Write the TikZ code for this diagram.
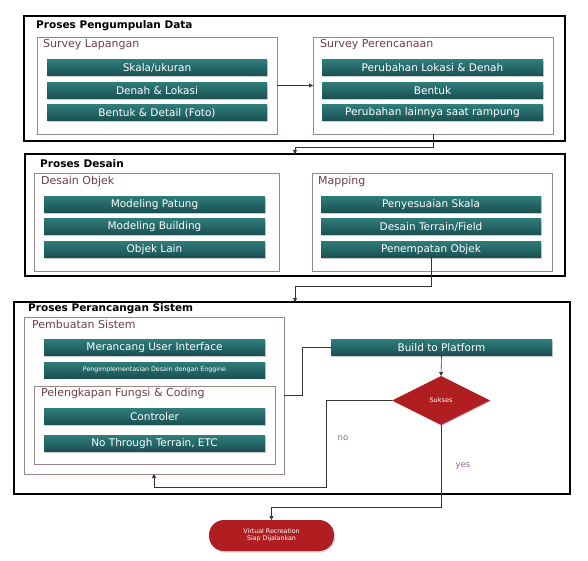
\documentclass[tikz,border=0pt]{standalone}
\usepackage{fontspec}
\setmainfont{DejaVu Sans}
\usetikzlibrary{shapes.geometric,shadows,arrows.meta}
\definecolor{tealtop}{HTML}{2E7C7A}
\definecolor{tealbot}{HTML}{1A5052}
\definecolor{subline}{HTML}{9A8585}
\definecolor{sublab}{HTML}{6E3F4A}
\definecolor{redfill}{HTML}{B01E22}
\definecolor{yncol}{HTML}{8A6A8E}
\begin{document}
\begin{tikzpicture}[x=1pt,y=-1pt,
  outerbox/.style={draw=black, line width=1.6pt, inner sep=0pt, outer sep=0pt},
  subbox/.style={draw=subline, line width=0.6pt, fill=white, inner sep=0pt, outer sep=0pt,
    drop shadow={shadow xshift=1.2pt,shadow yshift=-1.2pt,opacity=0.35}},
  bar/.style={top color=tealtop, bottom color=tealbot, text=white,
    font=\fontsize{10.5}{12}\selectfont, minimum height=16pt, inner sep=0pt, outer sep=0pt,
    drop shadow={shadow xshift=1pt,shadow yshift=-1.2pt,opacity=0.4}},
  titlelab/.style={anchor=west, font=\bfseries\fontsize{10.5}{12}\selectfont, inner sep=0pt},
  sublabel/.style={anchor=west, text=sublab, font=\fontsize{11}{13}\selectfont, inner sep=0pt},
  conn/.style={draw=black!80, line width=0.6pt},
  arr/.style={conn, -{Triangle[length=4pt,width=4pt]}},
  yn/.style={text=yncol, font=\fontsize{8.5}{10}\selectfont, inner sep=0pt},
]
\useasboundingbox[fill=white] (0,0) rectangle (588,561);

% ---------- Box 1 ----------
\node[outerbox, minimum width=541pt, minimum height=125pt] (p1) at (294.5,78.5) {};
\node[titlelab] (t1) at (36,26) {Proses Pengumpulan Data};
\node[subbox, minimum width=240pt, minimum height=97pt] (sl) at (157,85.5) {};
\node[sublabel] (sll) at (43,45) {Survey Lapangan};
\node[bar, minimum width=220pt] (a1) at (157,68) {Skala/ukuran};
\node[bar, minimum width=220pt] (a2) at (157,90.5) {Denah \& Lokasi};
\node[bar, minimum width=220pt] (a3) at (157,113) {Bentuk \& Detail (Foto)};
\node[subbox, minimum width=240pt, minimum height=97pt] (sp) at (433,85.5) {};
\node[sublabel] (spl) at (320,45) {Survey Perencanaan};
\node[bar, minimum width=221pt] (b1) at (432.5,68) {Perubahan Lokasi \& Denah};
\node[bar, minimum width=221pt] (b2) at (432.5,90.5) {Bentuk};
\node[bar, minimum width=221pt] (b3) at (432.5,113) {Perubahan lainnya saat rampung};

% ---------- Box 2 ----------
\node[outerbox, minimum width=540pt, minimum height=122pt] (p2) at (295,215) {};
\node[titlelab] (t2) at (40,164) {Proses Desain};
\node[subbox, minimum width=245pt, minimum height=98pt] (do) at (156.5,222) {};
\node[sublabel] (dol) at (41,181) {Desain Objek};
\node[bar, minimum width=221pt] (d1) at (154.5,204.5) {Modeling Patung};
\node[bar, minimum width=221pt] (d2) at (154.5,226.5) {Modeling Building};
\node[bar, minimum width=221pt] (d3) at (154.5,249.5) {Objek Lain};
\node[subbox, minimum width=240pt, minimum height=98pt] (mp) at (432,222) {};
\node[sublabel] (mpl) at (318,181) {Mapping};
\node[bar, minimum width=220pt] (m1) at (431,204.5) {Penyesuaian Skala};
\node[bar, minimum width=220pt] (m2) at (431,226.5) {Desain Terrain/Field};
\node[bar, minimum width=220pt] (m3) at (431,249.5) {Penempatan Objek};

% ---------- Box 3 ----------
\node[outerbox, minimum width=556pt, minimum height=192pt] (p3) at (292,398) {};
\node[titlelab] (t3) at (28,309) {Proses Perancangan Sistem};
\node[subbox, minimum width=260pt, minimum height=157pt] (ps) at (154,395.5) {};
\node[sublabel] (psl) at (32,324) {Pembuatan Sistem};
\node[bar, minimum width=221pt] (e1) at (154.5,347.5) {Merancang User Interface};
\node[bar, minimum width=221pt, font=\fontsize{6.3}{8}\selectfont] (e2) at (154.5,370) {Pengimplementasian Desain dengan Enggine};
\node[subbox, minimum width=241pt, minimum height=78pt] (pf) at (154.5,425) {};
\node[sublabel] (pfl) at (41,393) {Pelengkapan Fungsi \& Coding};
\node[bar, minimum width=221pt] (f1) at (154.5,416.5) {Controler};
\node[bar, minimum width=221pt] (f2) at (154.5,443.5) {No Through Terrain, ETC};
\node[bar, minimum width=221pt] (build) at (441.5,347.5) {Build to Platform};
\node[diamond, fill=redfill, minimum width=98pt, minimum height=49pt, inner sep=0pt, outer sep=0pt,
  text=white, font=\fontsize{6.5}{8}\selectfont,
  drop shadow={shadow xshift=1pt,shadow yshift=-1pt,opacity=0.3}] (suk) at (441,400.5) {Sukses};
\node[fill=redfill, rounded corners=15pt, minimum width=125pt, minimum height=31pt, inner sep=0pt, outer sep=0pt,
  text=white, align=center, font=\fontsize{6.3}{7.5}\selectfont,
  drop shadow={shadow xshift=1pt,shadow yshift=-1.5pt,opacity=0.3}] (term) at (271.5,535.5) {Virtual Recreation\\Siap Dijalankan};

\node[yn] (nol) at (343,438) {no};
\node[yn] (yesl) at (463,466) {yes};

% ---------- Connectors ----------
\coordinate (k1) at (295,147);
\coordinate (k2) at (295,286);
\coordinate (k3) at (302,395.5);
\coordinate (k4) at (326,487);
\coordinate (k5) at (441,507);
\draw[arr] (sl.east) -- (sp.west);
\draw[arr] (sp.south) |- (k1) -- (k1 |- p2.north);
\draw[arr] (m3.south) |- (k2) -- (k2 |- p3.north);
\draw[conn] (ps.east) -- (k3) |- (build.west);
\draw[arr] (build.south) -- (suk.north);
\draw[arr] (suk.west) -| (k4) -| (ps.south);
\draw[arr] (suk.south) -- (k5) -| (term.north);
\end{tikzpicture}
\end{document}
